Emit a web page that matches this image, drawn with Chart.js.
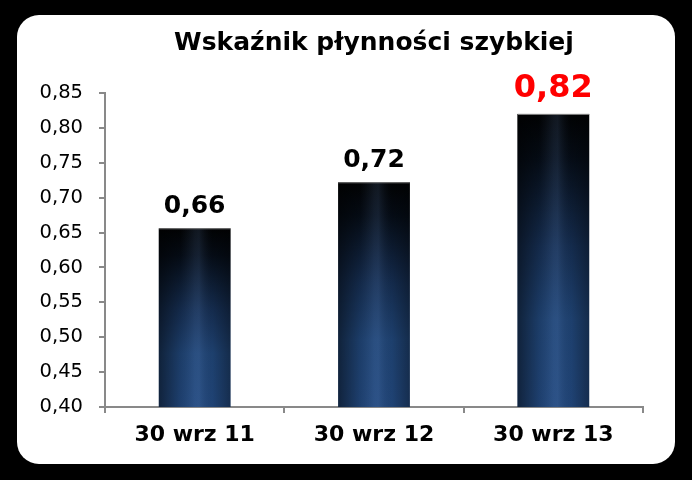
<!DOCTYPE html>
<html>
<head>
<meta charset="utf-8">
<script src="https://cdn.jsdelivr.net/npm/chart.js@4"></script>
<style>
  html, body { margin: 0; padding: 0; background: #000; }
  #wrap { width: 692px; height: 480px; }
</style>
</head>
<body>
<div id="wrap"><canvas id="chart1" width="692" height="480"></canvas></div>
<script>
let categories = ["30 wrz 11", "30 wrz 12", "30 wrz 13"];
let values = [0.656, 0.722, 0.82];
let yTicks = [0.40, 0.45, 0.50, 0.55, 0.60, 0.65, 0.70, 0.75, 0.80, 0.85];

let highlightIndex = values.length - 1;

function fmt(v) {
  return v.toFixed(2).replace(".", ",");
}

// white rounded card behind the chart
let cardPlugin = {
  id: "card",
  beforeDraw(chart) {
    let ctx = chart.ctx;
    ctx.save();
    ctx.fillStyle = "#000";
    ctx.fillRect(0, 0, chart.width, chart.height);
    ctx.fillStyle = "#fff";
    ctx.beginPath();
    ctx.roundRect(17, 15, 658, 449, 22);
    ctx.fill();
    ctx.restore();
  },
};

// glossy dark-to-blue fill per bar + value labels
let barFillPlugin = {
  id: "barFill",
  beforeDatasetsDraw(chart) {
    let ctx = chart.ctx;
    let meta = chart.getDatasetMeta(0);
    let bottom = chart.chartArea.bottom;
    ctx.save();
    meta.data.forEach((bar) => {
      let left = bar.x - bar.width / 2;
      let top = bar.y;
      let h = bottom - top;
      let w = bar.width;

      let vg = ctx.createLinearGradient(0, top, 0, bottom);
      vg.addColorStop(0, "#010203");
      vg.addColorStop(0.15, "#050c16");
      vg.addColorStop(0.45, "#152d50");
      vg.addColorStop(0.7, "#1f4373");
      vg.addColorStop(1, "#21467a");
      ctx.fillStyle = vg;
      ctx.fillRect(left, top, w, h);

      let hg = ctx.createLinearGradient(left, 0, left + w, 0);
      hg.addColorStop(0, "rgba(0,0,0,0.5)");
      hg.addColorStop(0.3, "rgba(0,0,0,0.1)");
      hg.addColorStop(0.5, "rgba(120,160,220,0.12)");
      hg.addColorStop(0.56, "rgba(120,160,220,0.14)");
      hg.addColorStop(0.75, "rgba(0,0,0,0.05)");
      hg.addColorStop(1, "rgba(0,0,0,0.35)");
      ctx.fillStyle = hg;
      ctx.fillRect(left, top, w, h);
    });
    ctx.restore();
  },
  afterDatasetsDraw(chart) {
    let ctx = chart.ctx;
    let meta = chart.getDatasetMeta(0);
    ctx.save();
    ctx.textAlign = "center";
    ctx.textBaseline = "alphabetic";
    meta.data.forEach((bar, i) => {
      let hi = i === highlightIndex;
      ctx.fillStyle = hi ? "#ff0000" : "#000";
      ctx.font = "bold " + (hi ? 32 : 25) + "px 'DejaVu Sans'";
      ctx.fillText(fmt(values[i]), bar.x, bar.y - (hi ? 17 : 15));
    });
    ctx.restore();
  },
};

let ctx1 = document.getElementById("chart1").getContext("2d");

let chart1 = new Chart(ctx1, {
  type: "bar",
  data: {
    labels: categories,
    datasets: [
      {
        data: values,
        backgroundColor: "transparent",
        borderColor: "#7a7a7a",
        borderWidth: { top: 1, left: 0, right: 0, bottom: 0 },
        borderSkipped: "bottom",
        categoryPercentage: 1,
        barPercentage: 0.4,
      },
    ],
  },
  options: {
    responsive: false,
    animation: false,
    layout: {
      padding: { left: 17, right: 49, top: 17, bottom: 23 },
    },
    plugins: {
      legend: { display: false },
      tooltip: { enabled: false },
      title: {
        display: true,
        fullSize: false,
        text: "Wskaźnik płynności szybkiej",
        color: "#000",
        font: { family: "'DejaVu Sans'", size: 25, weight: "bold" },
        padding: { top: 11, bottom: 35 },
      },
    },
    scales: {
      x: {
        afterFit(scale) {
          scale.height = 50;
        },
        border: { color: "#898989", width: 2 },
        grid: {
          drawOnChartArea: false,
          drawTicks: true,
          tickLength: 6,
          color: "#898989",
          lineWidth: 2,
        },
        ticks: {
          color: "#000",
          padding: 9,
          font: { family: "'DejaVu Sans'", size: 22, weight: "bold" },
        },
      },
      y: {
        min: yTicks[0],
        max: yTicks[yTicks.length - 1],
        afterFit(scale) {
          scale.width = 88;
        },
        afterBuildTicks(scale) {
          scale.ticks = yTicks.map((v) => ({ value: v }));
        },
        border: { color: "#898989", width: 2 },
        grid: {
          drawOnChartArea: false,
          drawTicks: true,
          tickLength: 6,
          color: "#898989",
          lineWidth: 2,
        },
        ticks: {
          color: "#000",
          padding: 16,
          font: { family: "'DejaVu Sans'", size: 19.5 },
          callback: (v) => fmt(v),
        },
      },
    },
  },
  plugins: [cardPlugin, barFillPlugin],
});
</script>
</body>
</html>
